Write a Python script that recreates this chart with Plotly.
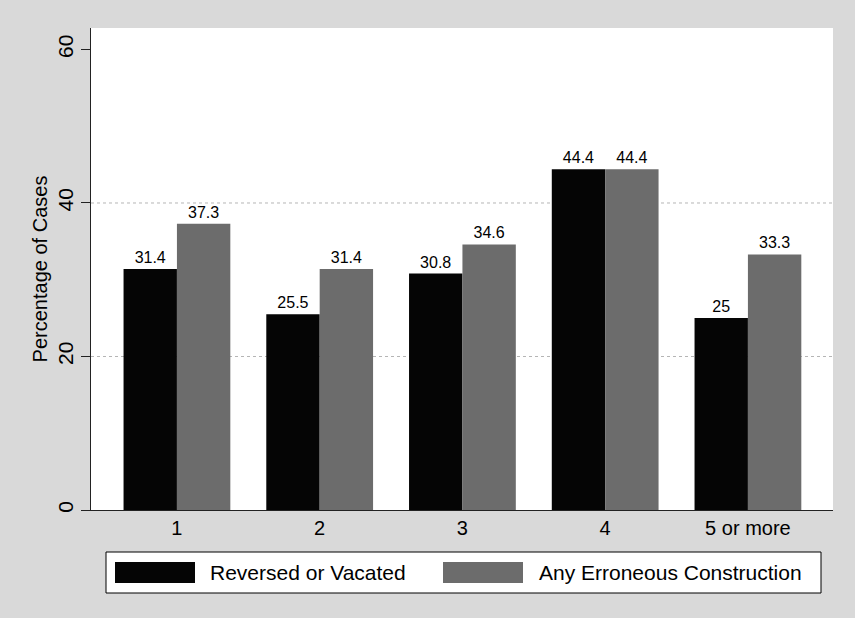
import plotly.graph_objects as go

# data
categories = ["1", "2", "3", "4", "5 or more"]
reversed_vacated = [31.4, 25.5, 30.8, 44.4, 25]
erroneous = [37.3, 31.4, 34.6, 44.4, 33.3]
series_names = ["Reversed or Vacated", "Any Erroneous Construction"]
y_ticks = [0, 20, 40, 60]
grid_ticks = [20, 40]

W, H = 855, 618
ML, MR, MT, MB = 91, 22, 28, 108
PW, PH = W - ML - MR, H - MT - MB

BG = "#d9d9d9"
BLACK = "#050505"
GRAY = "#6c6c6c"
FONT = "Liberation Sans, Arial, sans-serif"


def px_x(x):
    return (x - ML) / PW


def px_y(y):
    return (H - MB - y) / PH


fig = go.Figure()
for vals, name, col in [(reversed_vacated, series_names[0], BLACK),
                        (erroneous, series_names[1], GRAY)]:
    fig.add_trace(go.Bar(
        x=categories, y=vals, name=name,
        marker=dict(color=col, line=dict(width=0)),
        text=[format(v, "g") for v in vals],
        textposition="outside",
        textfont=dict(size=16, color="black", family=FONT),
        cliponaxis=False,
        showlegend=False,
    ))

# faint grid lines
for g in grid_ticks:
    fig.add_shape(type="line", xref="paper", yref="y", x0=0, x1=1, y0=g, y1=g,
                  line=dict(color="#b5b5b5", width=1, dash="dot"), layer="below")

# hand-drawn legend box at bottom
fig.add_shape(type="rect", xref="paper", yref="paper",
              x0=px_x(106), x1=px_x(821), y0=px_y(552), y1=px_y(593),
              line=dict(color="black", width=1), fillcolor="white")
legend_items = [(115, 195, 208, BLACK, series_names[0]),
                (443, 523, 537, GRAY, series_names[1])]
for sx0, sx1, tx, col, name in legend_items:
    fig.add_shape(type="rect", xref="paper", yref="paper",
                  x0=px_x(sx0), x1=px_x(sx1), y0=px_y(562), y1=px_y(583),
                  line=dict(width=0), fillcolor=col)
    fig.add_annotation(text=name, xref="paper", yref="paper",
                       x=px_x(tx), y=px_y(572.5), xanchor="left", yanchor="middle",
                       showarrow=False, font=dict(size=21, color="black", family=FONT))

fig.update_layout(
    width=W, height=H,
    margin=dict(l=ML, r=MR, t=MT, b=MB),
    paper_bgcolor=BG, plot_bgcolor="white",
    barmode="group", bargap=0.252, bargroupgap=0,
    font=dict(family=FONT, color="black"),
    xaxis=dict(
        range=[-0.602, 4.596],
        showline=True, linecolor="#222", linewidth=1,
        ticks="", showgrid=False,
        tickfont=dict(size=20),
    ),
    yaxis=dict(
        range=[0, 62.8],
        tickvals=y_ticks,
        tickangle=-90,
        ticks="outside", ticklen=9, tickcolor="#222",
        showline=True, linecolor="#222", linewidth=1,
        showgrid=False, zeroline=False,
        tickfont=dict(size=21),
        title=dict(text="Percentage of Cases", font=dict(size=20), standoff=0),
    ),
)

# drop the page margin so the figure fills the window
fig.write_html("out.html", config={"displayModeBar": False},
               post_script="document.body.style.margin='0';")
